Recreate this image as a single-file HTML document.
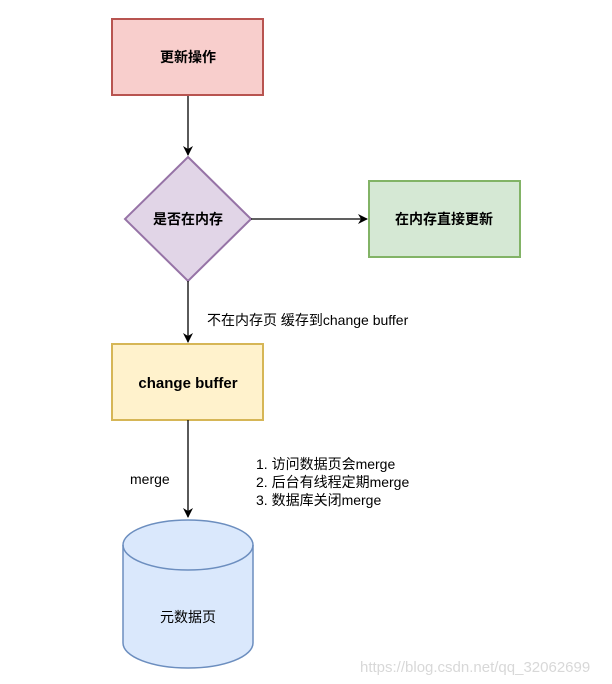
<!DOCTYPE html>
<html><head><meta charset="utf-8"><style>
html,body{margin:0;padding:0;background:#fff;width:612px;height:684px;overflow:hidden}
svg{display:block}
text{font-family:"Liberation Sans","Noto Sans CJK SC",sans-serif}
</style></head><body>
<svg width="612" height="684" viewBox="0 0 612 684">
<defs><marker id="a" markerWidth="10" markerHeight="10" refX="9" refY="5" orient="auto" markerUnits="userSpaceOnUse"><path d="M0,0 L10,5 L0,10 L3,5 Z" fill="#000"/></marker></defs>
<rect x="112" y="19" width="151" height="76" fill="#f8cecc" stroke="#b85450" stroke-width="2"/>
<text x="188" y="62" font-size="14" font-weight="bold" text-anchor="middle">更新操作</text>
<line x1="188" y1="96" x2="188" y2="155" stroke="#000" stroke-width="1.3" marker-end="url(#a)"/>
<polygon points="188,157 251,219 188,281 125,219" fill="#e1d5e7" stroke="#9673a6" stroke-width="2"/>
<text x="188" y="224" font-size="14" font-weight="bold" text-anchor="middle">是否在内存</text>
<line x1="251" y1="219" x2="367" y2="219" stroke="#000" stroke-width="1.3" marker-end="url(#a)"/>
<rect x="369" y="181" width="151" height="76" fill="#d5e8d4" stroke="#82b366" stroke-width="2"/>
<text x="444" y="224" font-size="14" font-weight="bold" text-anchor="middle">在内存直接更新</text>
<line x1="188" y1="281" x2="188" y2="342" stroke="#000" stroke-width="1.3" marker-end="url(#a)"/>
<text x="207" y="325" font-size="14">不在内存页 缓存到change buffer</text>
<rect x="112" y="344" width="151" height="76" fill="#fff2cc" stroke="#d6b656" stroke-width="2"/>
<text x="188" y="388" font-size="15" font-weight="bold" text-anchor="middle">change buffer</text>
<line x1="188" y1="420" x2="188" y2="517" stroke="#000" stroke-width="1.3" marker-end="url(#a)"/>
<text x="130" y="484" font-size="14">merge</text>
<text x="256" y="469" font-size="14">1. 访问数据页会merge</text>
<text x="256" y="487" font-size="14">2. 后台有线程定期merge</text>
<text x="256" y="505" font-size="14">3. 数据库关闭merge</text>
<path d="M123,545 A65,25 0 0 1 253,545 L253,643 A65,25 0 0 1 123,643 Z" fill="#dae8fc" stroke="#6c8ebf" stroke-width="1.5"/>
<path d="M123,545 A65,25 0 0 0 253,545" fill="none" stroke="#6c8ebf" stroke-width="1.5"/>
<text x="188" y="622" font-size="14" text-anchor="middle">元数据页</text>
<text x="360" y="672" font-size="15" fill="#d8d8d8">https://blog.csdn.net/qq_32062699</text>
</svg>
</body></html>
